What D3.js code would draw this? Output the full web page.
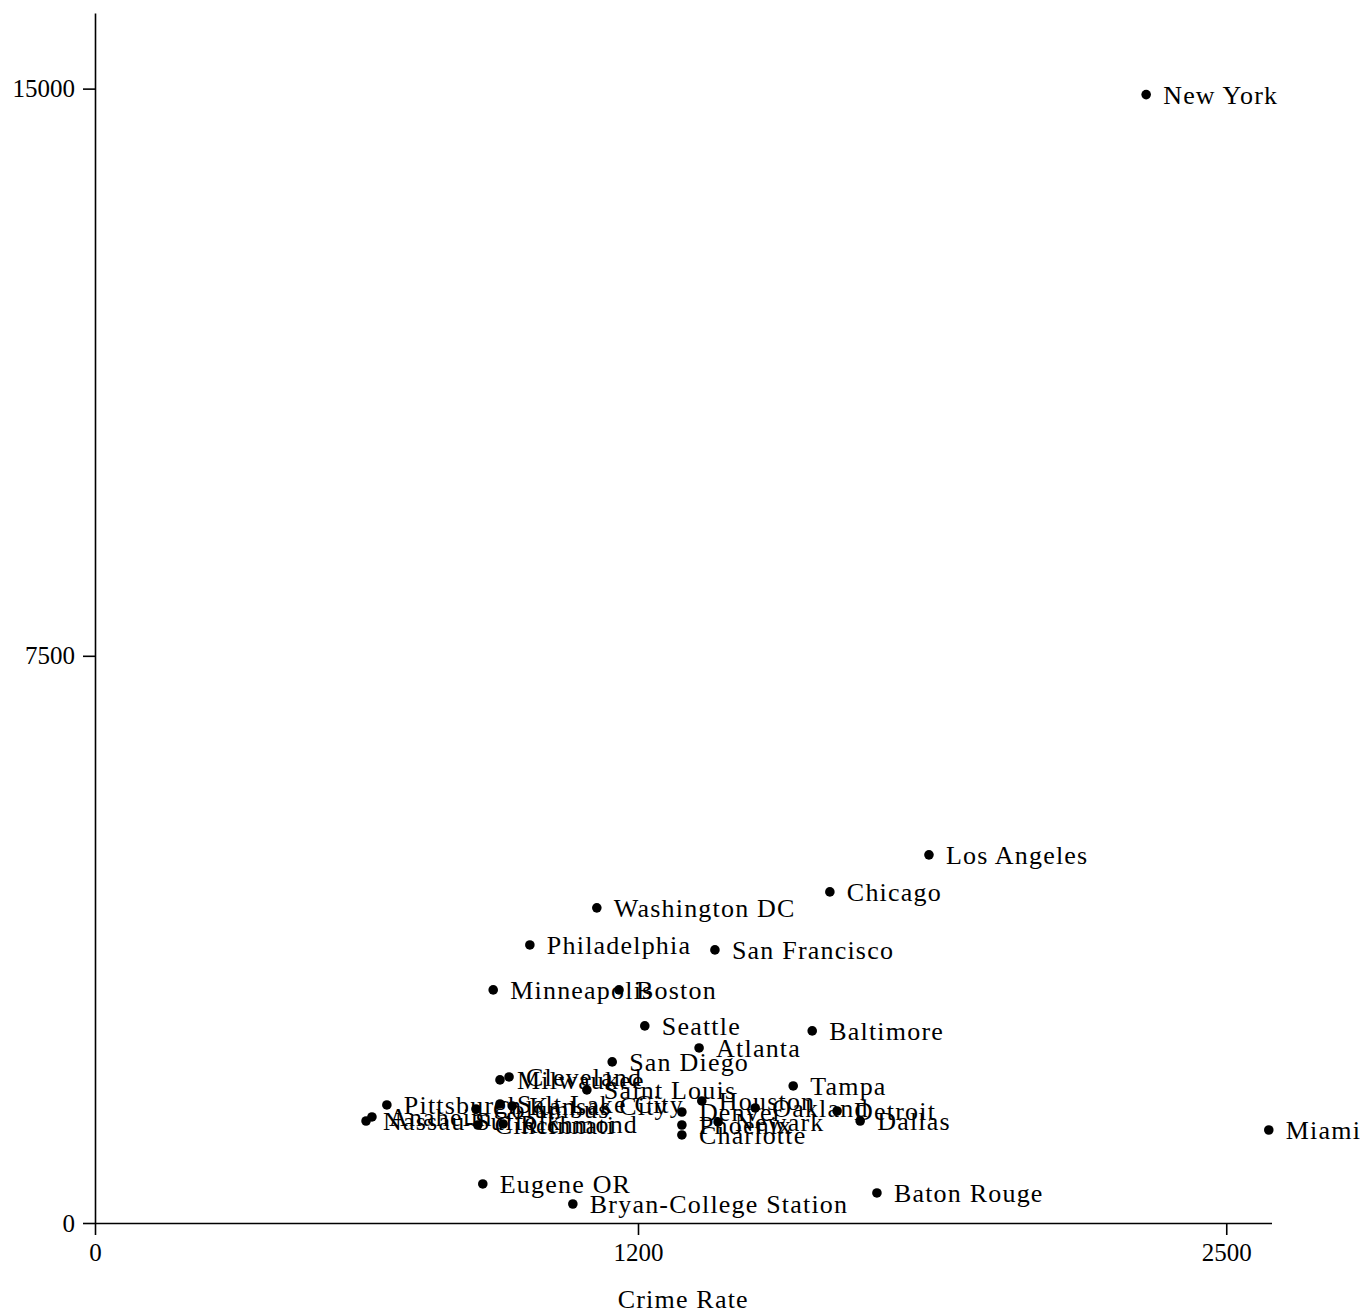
<!DOCTYPE html>
<html>
<head>
<meta charset="utf-8">
<script src="https://cdn.jsdelivr.net/npm/d3@7"></script>
<style>
  body { margin: 0; background: #fff; }
  svg text { font-family: "Liberation Serif", "DejaVu Serif", serif; fill: #000; }
  .axis path, .axis line { stroke: #000; stroke-width: 1.6; }
</style>
</head>
<body>
<svg width="1365" height="1313"></svg>
<script>
// cities, crime rate (x) and y value
const cities = ["New York", "Los Angeles", "Chicago", "Washington DC", "Philadelphia",
  "San Francisco", "Minneapolis", "Boston", "Seattle", "Baltimore", "Atlanta", "San Diego",
  "Milwaukee", "Cleveland", "Saint Louis", "Tampa", "Pittsburgh", "Nassau-Suffolk", "Anaheim",
  "Salt Lake City", "Kansas City", "Columbus", "Houston", "Denver", "Oakland", "Detroit",
  "Phoenix", "Newark", "Charlotte", "Dallas", "Miami", "Cincinnati", "Richmond",
  "Eugene OR", "Bryan-College Station", "Baton Rouge"];
const crimeRate = [2323, 1843, 1624, 1109, 961,
  1370, 880, 1158, 1215, 1585, 1335, 1143,
  895, 915, 1087, 1543, 645, 599, 612,
  895, 922, 842, 1341, 1297, 1459, 1640,
  1297, 1377, 1297, 1691, 2594, 846, 902,
  857, 1056, 1728];
const yValue = [14921, 4868, 4378, 4167, 3677,
  3611, 3082, 3082, 2606, 2540, 2315, 2130,
  1892, 1931, 1759, 1812, 1561, 1349, 1402,
  1574, 1548, 1508, 1614, 1468, 1521, 1481,
  1296, 1336, 1164, 1349, 1230, 1296, 1310,
  516, 251, 397];
const xTicks = [0, 1200, 2500];
const yTicks = [0, 7500, 15000];

const svg = d3.select("svg");
const x = d3.scaleLinear().domain([0, 2600]).range([95, 1271.5]);
const y = d3.scaleLinear().domain([0, 16000]).range([1223, 13]);

svg.append("g")
    .attr("class", "axis")
    .attr("transform", `translate(0,${y(0)})`)
    .call(d3.axisBottom(x).tickValues(xTicks).tickFormat(d3.format("d"))
        .tickSize(12).tickSizeOuter(0).tickPadding(8))
    .call(g => g.selectAll("text").attr("font-size", 25));

svg.append("g")
    .attr("class", "axis")
    .attr("transform", `translate(${x(0)},0)`)
    .call(d3.axisLeft(y).tickValues(yTicks).tickFormat(d3.format("d"))
        .tickSize(12).tickSizeOuter(0).tickPadding(8))
    .call(g => g.selectAll("text").attr("font-size", 25));

svg.append("text")
    .attr("x", (x.range()[0] + x.range()[1]) / 2)
    .attr("y", 1308)
    .attr("text-anchor", "middle")
    .attr("font-size", 26)
    .attr("letter-spacing", 1.2)
    .text("Crime Rate");

const data = cities.map((c, i) => ({name: c, cr: crimeRate[i], v: yValue[i]}));

const pts = svg.append("g");
pts.selectAll("circle")
    .data(data)
    .join("circle")
    .attr("cx", d => x(d.cr))
    .attr("cy", d => y(d.v))
    .attr("r", 4.8)
    .attr("fill", "#000");

pts.selectAll("text")
    .data(data)
    .join("text")
    .attr("x", d => x(d.cr) + 17)
    .attr("y", d => y(d.v))
    .attr("dy", "0.35em")
    .attr("font-size", 26)
    .attr("letter-spacing", 1.2)
    .text(d => d.name);
</script>
</body>
</html>
